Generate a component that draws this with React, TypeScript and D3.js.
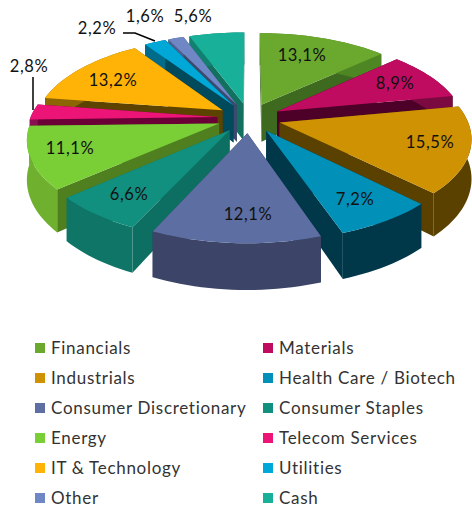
import * as d3 from "d3";

const categories = ["Financials", "Materials", "Industrials", "Health Care / Biotech", "Consumer Discretionary", "Consumer Staples", "Energy", "Telecom Services", "IT & Technology", "Utilities", "Other", "Cash"];
const shares = [13.1, 8.9, 15.5, 7.2, 12.1, 6.6, 11.1, 2.8, 13.2, 2.2, 1.6, 5.6];
const topColors = ["#6aa82e", "#c00c60", "#cf9203", "#0090b8", "#5d6ea3", "#119080", "#7ace36", "#ed1478", "#ffb307", "#00a8d8", "#7087c6", "#19b09a"];
const sideColors = ["#3e6a20", "#4d0028", "#5a4100", "#00384a", "#323a5c", "#0d6f62", "#4f7f1f", "#6a0035", "#5d4300", "#004a5c", "#3c4a70", "#12705f"];
const rimColors = ["#4f8624", "#7a0a40", "#5a4100", "#00384a", "#3c4568", "#0f7567", "#6fb02e", "#8a0f50", "#8c6505", "#006b8a", "#4f5f90", "#128070"];

// label anchors, same order as the slices
const labelX = [302, 395, 430, 355, 248, 129, 70, 29, 113, 97, 145, 193];
const labelY = [55, 83, 142, 199, 214, 194, 148, 66, 80, 28, 16, 16];

const width = 472;
const height = 507;
const cx = 249;
const cy = 118;
const radiusX = 187;
const radiusY = 87;
const perspective = 0.16;
const depth = 38;
const explode = 0.17;

// unit disc -> screen, back of the pie is a bit smaller than the front
function project(px: number, py: number, drop = 0): [number, number] {
  const s = 1 / (1 + perspective * py);
  return [cx + px * radiusX * s, cy - py * radiusY * s + drop * s];
}

const pie = d3.pie<number>().sort(null).value((d) => d);
const arcs = pie(shares);
const line = d3.line();

const slices = arcs
  .map((a, i) => {
    const mid = (a.startAngle + a.endAngle) / 2;
    const ox = Math.sin(mid) * explode;
    const oy = Math.cos(mid) * explode;
    const steps = Math.max(4, Math.ceil((a.endAngle - a.startAngle) * 30));
    const rim = d3.range(steps + 1).map((k) => {
      const t = a.startAngle + ((a.endAngle - a.startAngle) * k) / steps;
      return [ox + Math.sin(t), oy + Math.cos(t)];
    });
    return { i, ox, oy, rim, order: oy };
  })
  .sort((p, q) => q.order - p.order);

const rows = d3.scalePoint<number>().domain(d3.range(6)).range([348, 498]);

export default function App() {
  return (
    <svg width={width} height={height} style={{ position: "absolute", left: 0, top: 0, background: "#fff" }} fontFamily="Lato, sans-serif">
      {slices.map(({ i, ox, oy, rim }) => {
        const apex = project(ox, oy);
        const apexLow = project(ox, oy, depth);
        const top = rim.map(([x, y]) => project(x, y));
        const low = rim.map(([x, y]) => project(x, y, depth));
        const first = top[0];
        const last = top[top.length - 1];
        return (
          <g key={i}>
            <path d={line([apex, first, low[0], apexLow])! + "Z"} fill={sideColors[i]} />
            <path d={line([apex, last, low[low.length - 1], apexLow])! + "Z"} fill={sideColors[i]} />
            <path d={line([...top, ...low.slice().reverse()])! + "Z"} fill={rimColors[i]} />
            <path d={line([apex, ...top])! + "Z"} fill={topColors[i]} />
          </g>
        );
      })}
      <path d="M33,77V110" stroke="#000" strokeWidth={1.5} fill="none" />
      <path d="M123,33H135L155,41" stroke="#000" strokeWidth={1.5} fill="none" />
      {shares.map((v, i) => (
        <text key={i} x={labelX[i]} y={labelY[i]} dy="0.35em" textAnchor="middle" fontSize={16.5} letterSpacing={0.6} fill="#111">
          {v.toFixed(1).replace(".", ",")}%
        </text>
      ))}
      {categories.map((c, i) => {
        const col = i % 2;
        const y = rows(Math.floor(i / 2))!;
        return (
          <g key={c}>
            <rect x={col ? 263 : 35} y={y - 5} width={10} height={10} fill={topColors[i]} />
            <text x={col ? 279 : 51} y={y} dy="0.35em" fontSize={17} letterSpacing={0.7} fill="#333">
              {c}
            </text>
          </g>
        );
      })}
    </svg>
  );
}
